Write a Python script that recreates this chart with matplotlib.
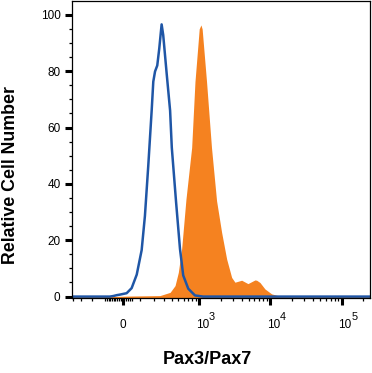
import matplotlib
matplotlib.use("Agg")
import matplotlib.pyplot as plt
import matplotlib.transforms as mtransforms
from matplotlib.ticker import FixedLocator, NullFormatter

plt.rcParams["font.family"] = ["Liberation Sans", "DejaVu Sans"]

# Isotype control (blue outline)
blue_x = [-420, -72, -52, -33, -15, 22, 50, 80, 111, 133, 157, 184, 197, 212,
          232, 251, 275, 292, 332, 375, 398, 462, 528, 589, 697, 870, 1139,
          250000]
blue_y = [0, 0, 0.2, 0.5, 0.7, 1.2, 3.0, 7.8, 16.5, 28.6, 46.3, 66.3, 76.3,
          79.9, 82, 88, 96.6, 92.8, 79, 66, 52.9, 33.5, 16.9, 7.5, 2.8, 0.4, 0,
          0]

# Pax3/Pax7 stained cells (orange filled)
orange_x = [-420, -60, 50, 258, 375, 446, 499, 558, 645, 780, 870, 1000, 1058,
            1100, 1270, 1492, 1760, 2076, 2441, 2868, 3190, 3963, 4855, 6091,
            6434, 7157, 8411, 10443, 12925, 16000, 250000]
orange_y = [0, 0, 0.2, 0.35, 1.5, 3.9, 8.6, 16.9, 34.5, 52.9, 76.3, 95, 96.4,
            95, 76.3, 52.9, 34, 22.7, 13.3, 6.8, 5.1, 5.8, 4.6, 5.9, 5.8, 5.0,
            2.7, 0.95, 0.3, 0, 0]

x_major = [0, 1e3, 1e4, 1e5]
x_major_labels = ["0", "10", "10", "10"]
x_exponents = ["", "3", "4", "5"]
x_minor = ([-400, -300, -200, -100, -90, -80, -70, -60, -50, -40, -30, -20,
            -10, 10, 20, 30, 40, 50]
           + [k * 100 for k in range(1, 10)]
           + [k * 1000 for k in range(2, 10)]
           + [k * 10000 for k in range(2, 10)]
           + [200000])
y_major = [0, 20, 40, 60, 80, 100]
y_minor = [v for v in range(5, 105, 5) if v % 20]

fig = plt.figure(figsize=(3.72, 3.73), dpi=100)
ax = fig.add_axes([0.1935, 0.2011, 0.8011, 0.797])

ax.fill_between(orange_x, orange_y, -1, color="#f58220", lw=0, zorder=1)
ax.plot(blue_x, blue_y, color="#1f56a6", lw=1.8, zorder=2)

ax.set_xscale("asinh", linear_width=170)
ax.set_xlim(-420, 250000)
ax.set_ylim(-0.5, 105)

ax.xaxis.set_major_locator(FixedLocator(x_major))
ax.set_xticklabels(x_major_labels)
ax.xaxis.set_minor_locator(FixedLocator(x_minor))
ax.xaxis.set_minor_formatter(NullFormatter())
ax.yaxis.set_major_locator(FixedLocator(y_major))
ax.yaxis.set_minor_locator(FixedLocator(y_minor))

ax.tick_params(axis="both", which="major", direction="out", length=5.2,
               width=2.2, labelsize=8.5, color="black")
ax.tick_params(axis="both", which="minor", direction="out", length=2.2,
               width=0.9, color="black")
ax.tick_params(axis="x", which="major", pad=10)
ax.tick_params(axis="y", which="major", pad=3)

# the "10" of each decade label sits a little right of its tick
shift = mtransforms.ScaledTranslation(3.5 / 100, 0, fig.dpi_scale_trans)
for lab in ax.get_xticklabels()[1:]:
    lab.set_transform(lab.get_transform() + shift)

for xv, ex in zip(x_major, x_exponents):
    if ex:
        ax.annotate(ex, xy=(xv, 0), xycoords=("data", "axes fraction"),
                    xytext=(9.5, -24), textcoords="offset pixels",
                    fontsize=7.8, ha="left", va="bottom")

for s in ax.spines.values():
    s.set_linewidth(0.9)

ax.set_ylabel("Relative Cell Number", fontsize=12.8, fontweight="bold")
ax.yaxis.set_label_coords(-0.178, 0.414)
ax.set_xlabel("Pax3/Pax7", fontsize=13, fontweight="bold")
ax.xaxis.set_label_coords(0.455, -0.178)

fig.savefig("out.png", dpi=100)
